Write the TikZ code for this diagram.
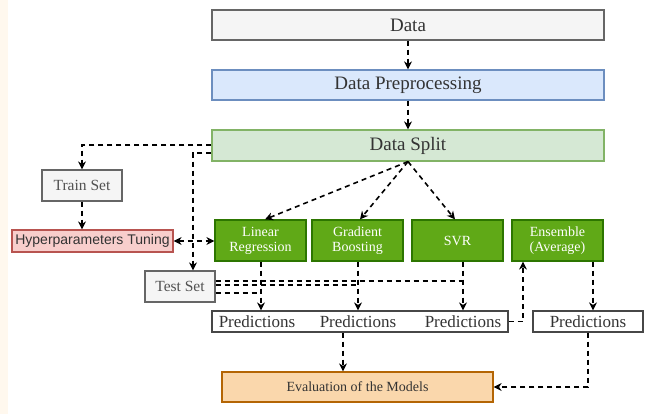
\documentclass[tikz,border=0pt]{standalone}
\usepackage{fontspec}
\setmainfont{Liberation Serif}
\newfontfamily\arialf{Liberation Sans}
\usetikzlibrary{arrows.meta,calc}
\definecolor{txt}{HTML}{333333}
\definecolor{grayfill}{HTML}{F5F5F5}
\definecolor{graydraw}{HTML}{666666}
\definecolor{bluefill}{HTML}{DAE8FC}
\definecolor{bluedraw}{HTML}{6C8EBF}
\definecolor{greenfill}{HTML}{D5E8D4}
\definecolor{greendraw}{HTML}{82B366}
\definecolor{redfill}{HTML}{F8CECC}
\definecolor{reddraw}{HTML}{B85450}
\definecolor{darkgreen}{HTML}{60A917}
\definecolor{darkgreendraw}{HTML}{2D7600}
\definecolor{orangefill}{HTML}{FAD7AC}
\definecolor{orangedraw}{HTML}{B46504}
\definecolor{cream}{HTML}{FFF8EE}
\begin{document}
\begin{tikzpicture}[x=1pt,y=-1pt,
  box/.style={draw, rectangle, inner sep=0pt, line width=1.2pt, text=txt, align=center},
  bigtxt/.style={font=\fontsize{19}{22}\selectfont},
  gbox/.style={box, fill=grayfill, draw=graydraw},
  model/.style={box, fill=darkgreen, draw=darkgreendraw, text=white, minimum width=91pt, minimum height=41pt, font=\fontsize{14}{15}\selectfont},
  dline/.style={line width=1.6pt, dash pattern=on 5pt off 4pt, black},
  arr/.style={dline, -{Stealth[length=8pt,width=8pt,inset=2.5pt]}},
  barr/.style={dline, {Stealth[length=8pt,width=8pt,inset=2.5pt]}-{Stealth[length=8pt,width=8pt,inset=2.5pt]}}
]
\useasboundingbox (0,0) rectangle (651,414);
\fill[white] (0,0) rectangle (651,414);
\fill[cream] (0,0) rectangle (8,414);

% top chain
\node[gbox, bigtxt, minimum width=392pt, minimum height=30pt] (data) at (408,25) {Data};
\node[box, bigtxt, fill=bluefill, draw=bluedraw, minimum width=392pt, minimum height=30pt] (prep) at (408,85) {Data Preprocessing};
\node[box, bigtxt, fill=greenfill, draw=greendraw, minimum width=392pt, minimum height=31pt] (split) at (408,145.5) {Data Split};

% left side
\node[gbox, text=txt!85, font=\fontsize{15.5}{17}\selectfont, minimum width=80pt, minimum height=31pt] (train) at (82,185.5) {Train Set};
\node[box, fill=redfill, draw=reddraw, font=\arialf\fontsize{14}{16}\selectfont, minimum width=161pt, minimum height=22pt] (hyper) at (92.5,241) {Hyperparameters Tuning};
\node[gbox, text=txt!85, font=\fontsize{15.5}{17}\selectfont, minimum width=70pt, minimum height=31pt] (test) at (180,286.5) {Test Set};

% models
\node[model] (lr) at (260.5,240.5) {Linear\\Regression};
\node[model] (gb) at (357.5,240.5) {Gradient\\Boosting};
\node[model] (svr) at (457.5,240.5) {SVR};
\node[model] (ens) at (557.5,240.5) {Ensemble\\(Average)};

% predictions
\node[box, fill=white, draw=graydraw!70!black, minimum width=296pt, minimum height=21pt] (predbox) at (360,321.5) {};
\node[text=txt, font=\fontsize{17}{19}\selectfont, inner sep=0pt] (p1) at (257,321.5) {Predictions};
\node[text=txt, font=\fontsize{17}{19}\selectfont, inner sep=0pt] (p2) at (358,321.5) {Predictions};
\node[text=txt, font=\fontsize{17}{19}\selectfont, inner sep=0pt] (p3) at (463,321.5) {Predictions};
\node[box, fill=white, draw=graydraw!70!black, font=\fontsize{17}{19}\selectfont, minimum width=110pt, minimum height=21pt] (pe) at (588,321.5) {Predictions};

% evaluation
\node[box, fill=orangefill, draw=orangedraw, font=\fontsize{14}{16}\selectfont, minimum width=271pt, minimum height=30pt] (eval) at (357.5,387) {Evaluation of the Models};

% connectors
\draw[arr] (data) -- (prep);
\draw[arr] (prep) -- (split);
\draw[arr] ([yshift=0.5pt]split.west) -| (train.north);
\coordinate (testtop) at ([xshift=13pt]test.north);
\draw[arr] ([yshift=-7.5pt]split.west) -| (testtop);
\draw[arr] (train.south) -- (train.south |- hyper.north);
\draw[barr] (hyper.east) -- (hyper.east -| lr.west);

\coordinate (lrtop) at ([xshift=4.5pt]lr.north);
\coordinate (gbtop) at ([xshift=2.5pt]gb.north);
\coordinate (svrtop) at ([xshift=-2.5pt]svr.north);
\draw[arr] (split.south) -- (lrtop);
\draw[arr] (split.south) -- (gbtop);
\draw[arr] (split.south) -- (svrtop);

\coordinate (lrbot) at ([xshift=0.5pt]lr.south);
\coordinate (gbbot) at ([xshift=0.5pt]gb.south);
\coordinate (svrbot) at ([xshift=5.5pt]svr.south);
\draw[arr] (lrbot) -- (lrbot |- predbox.north);
\draw[arr] (gbbot) -- (gbbot |- predbox.north);
\draw[arr] (svrbot) -- (svrbot |- predbox.north);

\coordinate (t1) at ([yshift=5.5pt]test.east);
\coordinate (t2) at ([yshift=1.5pt]test.east);
\coordinate (t3) at ([yshift=-6.5pt]test.east);
\draw[dline] (t1) -- (t1 -| svrbot);
\draw[dline] (t2) -- (t2 -| gbbot);
\draw[dline] (t3) -- (t3 -| lrbot);

\coordinate (ensin) at ([xshift=-34.5pt]ens.south);
\draw[arr] (predbox.east) -| (ensin);
\coordinate (ensout) at ([xshift=35.5pt]ens.south);
\draw[arr] (ensout) -- (ensout |- pe.north);

\coordinate (pbx) at ([xshift=-17pt]predbox.south);
\draw[arr] (pbx) -- (pbx |- eval.north);
\draw[arr] (pe.south) |- (eval.east);
\end{tikzpicture}
\end{document}
